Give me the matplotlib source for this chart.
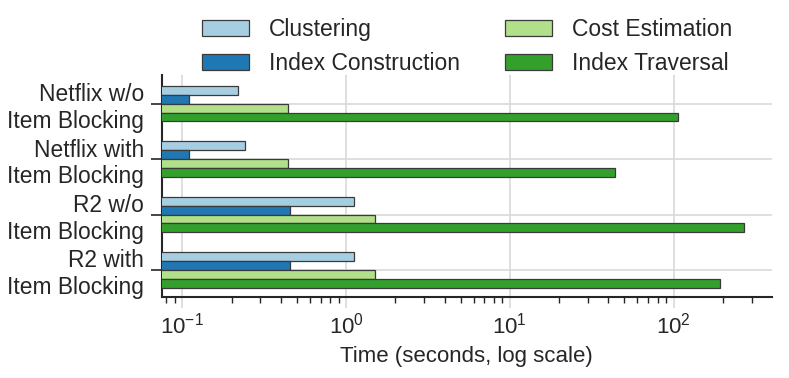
import numpy as np
import matplotlib
matplotlib.use('Agg')
import matplotlib.pyplot as plt

plt.rcParams['font.family'] = ['Liberation Sans', 'DejaVu Sans']
plt.rcParams['mathtext.fontset'] = 'custom'
plt.rcParams['mathtext.rm'] = 'Liberation Sans'
plt.rcParams['mathtext.it'] = 'Liberation Sans:italic'
plt.rcParams['mathtext.bf'] = 'Liberation Sans:bold'

# data (seconds)
datasets = ['Netflix w/o\nItem Blocking', 'Netflix with\nItem Blocking',
            'R2 w/o\nItem Blocking', 'R2 with\nItem Blocking']
phases = ['Clustering', 'Index Construction', 'Cost Estimation', 'Index Traversal']
clustering = [0.220, 0.241, 1.12, 1.12]
index_construction = [0.110, 0.110, 0.455, 0.455]
cost_estimation = [0.440, 0.440, 1.51, 1.51]
index_traversal = [107, 43.6, 268, 193]
colors = ['#a6cee3', '#1f78b4', '#b2df8a', '#33a02c']

text_col = '#262626'
grid_col = '#d9d9d9'

fig = plt.figure(figsize=(7.89, 3.78), dpi=100)
ax = fig.add_axes([0.2053, 0.2143, 0.7727, 0.5873])

y = np.arange(len(datasets))
h = 0.16
series = [clustering, index_construction, cost_estimation, index_traversal]
for i, (vals, lab, c) in enumerate(zip(series, phases, colors)):
    ax.barh(y + (i - 1.5) * h, vals, height=h, color=c, label=lab,
            edgecolor='#3a3a3a', linewidth=0.9, zorder=3)

ax.set_xscale('log')
ax.set_xlim(0.0751, 397)
ax.set_ylim(3.49, -0.52)
ax.set_yticks(y)
ax.set_yticklabels(datasets, fontsize=16.4, color=text_col, ha='right',
                   multialignment='right')
ax.set_xticks([0.1, 1, 10, 100])
ax.tick_params(axis='x', which='major', labelsize=16, colors=grid_col,
               labelcolor=text_col, length=8, width=1.2)
ax.tick_params(axis='x', which='minor', colors=text_col, length=4, width=1)
ax.tick_params(axis='y', which='major', colors=text_col, length=8, width=1.2, pad=5)

ax.grid(True, which='major', color=grid_col, linewidth=1.2, zorder=0)
ax.set_axisbelow(True)

for s in ['top', 'right']:
    ax.spines[s].set_visible(False)
for s in ['left', 'bottom']:
    ax.spines[s].set_color(text_col)
    ax.spines[s].set_linewidth(1.5)

ax.set_xlabel('Time (seconds, log scale)', fontsize=16, color=text_col)
ax.xaxis.set_label_coords(0.5, -0.22)

fig.legend(loc='upper center', bbox_to_anchor=(0.592, 1.008), ncol=2,
           frameon=False, fontsize=16.5, handlelength=2.05, handleheight=0.7,
           handletextpad=0.87, columnspacing=2.0, labelspacing=0.5,
           labelcolor=text_col)

fig.savefig('out.png', dpi=100)
